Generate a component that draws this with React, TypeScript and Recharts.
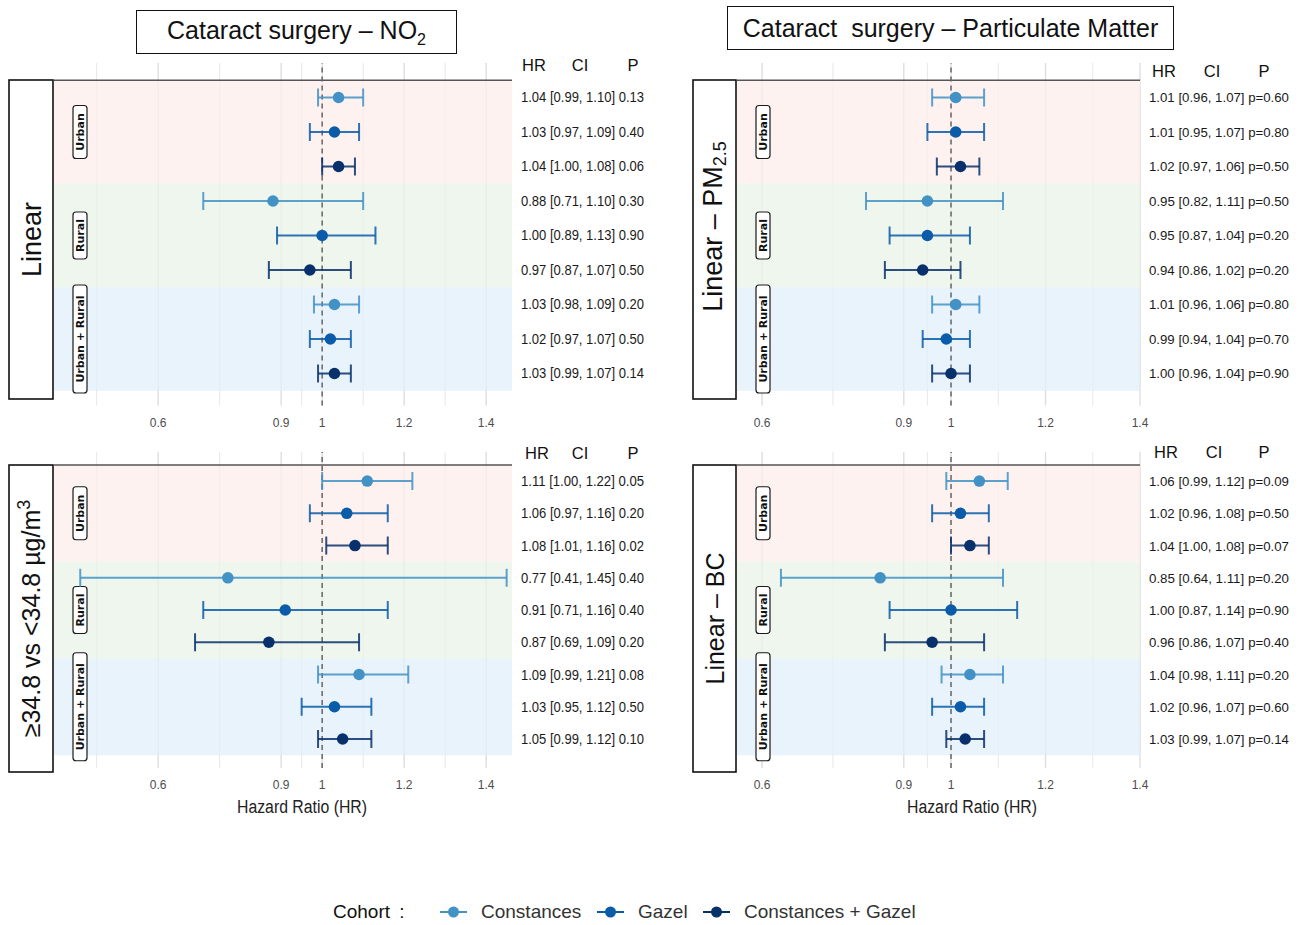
import React from 'react'
import {
  ScatterChart,
  Scatter,
  XAxis,
  YAxis,
  ErrorBar,
  CartesianGrid,
  ReferenceArea,
  ReferenceLine,
} from 'recharts'

// cohorts (one colour each), repeated in every area block
const COHORTS = ['Constances', 'Gazel', 'Constances + Gazel']
const COHORT_COLORS = ['#4292c6', '#0b5ca8', '#08306b']
const AREAS = ['Urban', 'Rural', 'Urban + Rural']
const AREA_FILLS = ['#fcedeb', '#eaf3e8', '#e2effb']

const MAJOR_TICKS = [0.6, 0.9, 1, 1.2, 1.4]
const MINOR_LEFT = [0.45, 0.75, 0.95, 1.1, 1.3]
const MINOR_RIGHT = [0.75, 0.95, 1.1, 1.3]

// rows: Urban (C, G, C+G), Rural (C, G, C+G), Urban + Rural (C, G, C+G)
const NO2_LIN_HR = [1.04, 1.03, 1.04, 0.88, 1.0, 0.97, 1.03, 1.02, 1.03]
const NO2_LIN_LO = [0.99, 0.97, 1.0, 0.71, 0.89, 0.87, 0.98, 0.97, 0.99]
const NO2_LIN_HI = [1.1, 1.09, 1.08, 1.1, 1.13, 1.07, 1.09, 1.07, 1.07]
const NO2_LIN_P = [0.13, 0.4, 0.06, 0.3, 0.9, 0.5, 0.2, 0.5, 0.14]

const PM_HR = [1.01, 1.01, 1.02, 0.95, 0.95, 0.94, 1.01, 0.99, 1.0]
const PM_LO = [0.96, 0.95, 0.97, 0.82, 0.87, 0.86, 0.96, 0.94, 0.96]
const PM_HI = [1.07, 1.07, 1.06, 1.11, 1.04, 1.02, 1.06, 1.04, 1.04]
const PM_P = [0.6, 0.8, 0.5, 0.5, 0.2, 0.2, 0.8, 0.7, 0.9]

const NO2_THR_HR = [1.11, 1.06, 1.08, 0.77, 0.91, 0.87, 1.09, 1.03, 1.05]
const NO2_THR_LO = [1.0, 0.97, 1.01, 0.41, 0.71, 0.69, 0.99, 0.95, 0.99]
const NO2_THR_HI = [1.22, 1.16, 1.16, 1.45, 1.16, 1.09, 1.21, 1.12, 1.12]
const NO2_THR_P = [0.05, 0.2, 0.02, 0.4, 0.4, 0.2, 0.08, 0.5, 0.1]

const BC_HR = [1.06, 1.02, 1.04, 0.85, 1.0, 0.96, 1.04, 1.02, 1.03]
const BC_LO = [0.99, 0.96, 1.0, 0.64, 0.87, 0.86, 0.98, 0.96, 0.99]
const BC_HI = [1.12, 1.08, 1.08, 1.11, 1.14, 1.07, 1.11, 1.07, 1.07]
const BC_P = [0.09, 0.5, 0.07, 0.2, 0.9, 0.4, 0.2, 0.6, 0.14]

const SANS = "'Liberation Sans', Arial, sans-serif"

const STRIP_LEN: Record<string, number> = { Urban: 53, Rural: 47, 'Urban + Rural': 108 }

const PANELS = [
  {
    id: 'no2-linear',
    hr: NO2_LIN_HR, lo: NO2_LIN_LO, hi: NO2_LIN_HI, p: NO2_LIN_P, pPrefix: '',
    plotLeft: 54, plotRight: 512, rightW: 165, textW: 123, textSize: 14, xDomain: [0.346, 1.463], minor: MINOR_LEFT,
    rowTop: 97, rowStep: 34.5, yMin: -1, yMax: 8.93, tickMargin: 13,
    headerY: 65, headerX: [534, 580, 633],
    box: { x: 8, y: 79, w: 46, h: 321 },
    label: <>Linear</>, labelSize: 27, labelShift: 0, labelDx: 0,
    xTitle: false, xTitleX: 0,
  },
  {
    id: 'pm-linear',
    hr: PM_HR, lo: PM_LO, hi: PM_HI, p: PM_P, pPrefix: 'p=',
    plotLeft: 737, plotRight: 1140, rightW: 158, textW: 140, textSize: 13, xDomain: [0.547, 1.4], minor: MINOR_RIGHT,
    rowTop: 97, rowStep: 34.5, yMin: -1, yMax: 8.93, tickMargin: 13,
    headerY: 71, headerX: [1164, 1212, 1264],
    box: { x: 692, y: 79, w: 45, h: 321 },
    label: <>Linear – PM<tspan baselineShift="-20%" fontSize={18}>2.5</tspan></>, labelSize: 27, labelShift: -13, labelDx: -2,
    xTitle: false, xTitleX: 0,
  },
  {
    id: 'no2-threshold',
    hr: NO2_THR_HR, lo: NO2_THR_LO, hi: NO2_THR_HI, p: NO2_THR_P, pPrefix: '',
    plotLeft: 54, plotRight: 512, rightW: 165, textW: 123, textSize: 14, xDomain: [0.346, 1.463], minor: MINOR_LEFT,
    rowTop: 481, rowStep: 32.25, yMin: -0.9, yMax: 8.9, tickMargin: 12,
    headerY: 453, headerX: [537, 580, 633],
    box: { x: 8, y: 464, w: 46, h: 309 },
    label: <>≥34.8 vs &lt;34.8 µg/m<tspan baselineShift="super" fontSize={18}>3</tspan></>, labelSize: 25, labelShift: 0, labelDx: 0,
    xTitle: true, xTitleX: 302,
  },
  {
    id: 'bc-linear',
    hr: BC_HR, lo: BC_LO, hi: BC_HI, p: BC_P, pPrefix: 'p=',
    plotLeft: 737, plotRight: 1140, rightW: 158, textW: 140, textSize: 13, xDomain: [0.547, 1.4], minor: MINOR_RIGHT,
    rowTop: 481, rowStep: 32.25, yMin: -0.9, yMax: 8.9, tickMargin: 12,
    headerY: 452, headerX: [1166, 1214, 1264],
    box: { x: 692, y: 464, w: 45, h: 309 },
    label: <>Linear – BC</>, labelSize: 25, labelShift: 0, labelDx: 0,
    xTitle: true, xTitleX: 972,
  },
]

const TITLES = [
  { text: <>Cataract surgery – NO<sub style={{ fontSize: 16 }}>2</sub></>, x: 136, y: 10, w: 321, h: 44 },
  { text: <>Cataract&nbsp; surgery – Particulate Matter</>, x: 727, y: 6, w: 447, h: 44 },
]

function StripLabel({ viewBox, text }: any) {
  const cx = viewBox.x + 26
  const cy = viewBox.y + viewBox.height / 2
  const len = STRIP_LEN[text]
  return (
    <g transform={`rotate(-90 ${cx} ${cy})`}>
      <rect x={cx - len / 2} y={cy - 7} width={len} height={14} rx={3} fill="#fff" stroke="#1a1a1a" strokeWidth={1.2} />
      <text x={cx} y={cy} dy={4} textAnchor="middle" fontSize={11} fontWeight="bold" fontFamily="'DejaVu Sans', sans-serif" fill="#111">
        {text}
      </text>
    </g>
  )
}

function ForestPanel({ panel }: { panel: (typeof PANELS)[number] }) {
  const texts = panel.hr.map(
    (hr, i) =>
      `${hr.toFixed(2)} [${panel.lo[i].toFixed(2)}, ${panel.hi[i].toFixed(2)}] ${panel.pPrefix}${panel.p[i].toFixed(2)}`,
  )
  const rows = panel.hr.map((hr, i) => ({ row: i, hr, err: [hr - panel.lo[i], panel.hi[i] - hr] }))
  const series = COHORTS.map((_, c) => rows.filter((r) => r.row % 3 === c))

  const plotW = panel.plotRight - panel.plotLeft
  const plotH = (panel.yMax - panel.yMin) * panel.rowStep
  const axisH = 30
  const top = panel.rowTop + panel.yMin * panel.rowStep
  const [d0, d1] = panel.xDomain

  const gridAt = (values: number[]) => ({ xAxis, offset }: any) =>
    values.map((v) =>
      xAxis && typeof xAxis.scale === 'function'
        ? xAxis.scale(v)
        : offset.left + ((v - d0) / (d1 - d0)) * offset.width,
    )

  const RowTick = (props: any) => (
    <text
      x={props.x + 9}
      y={props.y}
      dy={5}
      fontSize={panel.textSize}
      fontFamily={SANS}
      fill="#1a1a1a"
      textLength={panel.textW}
      lengthAdjust="spacingAndGlyphs"
    >
      {texts[props.payload.value]}
    </text>
  )

  const lx = panel.box.w / 2 + panel.labelDx
  const ly = panel.box.h / 2 + panel.labelShift

  return (
    <>
      <div style={{ position: 'absolute', left: panel.plotLeft, top }}>
        <ScatterChart width={plotW + panel.rightW} height={plotH + axisH} margin={{ top: 0, right: 0, bottom: 0, left: 0 }}>
          <CartesianGrid horizontal={false} stroke="#e2e2e2" strokeWidth={0.8} verticalCoordinatesGenerator={gridAt(panel.minor)} />
          <CartesianGrid horizontal={false} stroke="#dedede" strokeWidth={1.4} verticalCoordinatesGenerator={gridAt(MAJOR_TICKS)} />
          <XAxis
            type="number"
            dataKey="hr"
            domain={panel.xDomain}
            ticks={MAJOR_TICKS}
            interval={0}
            allowDataOverflow
            axisLine={false}
            tickLine={false}
            tickSize={0}
            tickMargin={panel.tickMargin}
            height={axisH}
            tick={{ fontSize: 12, fontFamily: SANS, fill: '#4d4d4d' }}
          />
          <YAxis
            type="number"
            dataKey="row"
            orientation="right"
            domain={[panel.yMin, panel.yMax]}
            reversed
            allowDataOverflow
            ticks={[0, 1, 2, 3, 4, 5, 6, 7, 8]}
            interval={0}
            width={panel.rightW}
            axisLine={false}
            tickLine={false}
            tickSize={0}
            tickMargin={0}
            tick={RowTick}
          />
          {AREAS.map((area, a) => (
            <ReferenceArea
              key={area}
              y1={a * 3 - 0.5}
              y2={a * 3 + 2.5}
              fill={AREA_FILLS[a]}
              fillOpacity={0.75}
              stroke="none"
              label={(props: any) => <StripLabel viewBox={props.viewBox} text={area} />}
            />
          ))}
          <ReferenceLine y={-0.5} stroke="#555" strokeWidth={1.5} />
          <ReferenceLine x={1} stroke="#666" strokeWidth={1.5} strokeDasharray="5 4" />
          {series.map((data, c) => (
            <Scatter
              key={COHORTS[c]}
              name={COHORTS[c]}
              data={data}
              fill={COHORT_COLORS[c]}
              isAnimationActive={false}
              shape={(p: any) => <circle cx={p.cx} cy={p.cy} r={5.8} fill={COHORT_COLORS[c]} />}
            >
              <ErrorBar
                dataKey="err"
                direction="x"
                width={9}
                stroke={COHORT_COLORS[c]}
                strokeWidth={2}
                strokeOpacity={0.85}
                isAnimationActive={false}
              />
            </Scatter>
          ))}
        </ScatterChart>
      </div>
      {['HR', 'CI', 'P'].map((h, i) => (
        <div
          key={h}
          style={{
            position: 'absolute', left: panel.headerX[i] - 20, width: 40, top: panel.headerY - 12, height: 24,
            lineHeight: '24px', textAlign: 'center', fontSize: 16.5, fontFamily: SANS, color: '#111',
          }}
        >
          {h}
        </div>
      ))}
      <svg style={{ position: 'absolute', left: panel.box.x, top: panel.box.y }} width={panel.box.w} height={panel.box.h}>
        <rect x={1} y={1} width={panel.box.w - 2} height={panel.box.h - 2} fill="#fff" stroke="#111" strokeWidth={1.6} />
        <text
          x={lx}
          y={ly}
          transform={`rotate(-90 ${lx} ${ly})`}
          textAnchor="middle"
          dy={panel.labelSize * 0.36}
          fontSize={panel.labelSize}
          fontFamily={SANS}
          fill="#111"
        >
          {panel.label}
        </text>
      </svg>
      {panel.xTitle && (
        <svg style={{ position: 'absolute', left: panel.xTitleX - 90, top: 795 }} width={180} height={24}>
          <text x={25} y={18} fontSize={18} fontFamily={SANS} fill="#222" textLength={130} lengthAdjust="spacingAndGlyphs">
            Hazard Ratio (HR)
          </text>
        </svg>
      )}
    </>
  )
}

function CohortLegend() {
  const starts = [440, 597, 703]
  return (
    <>
      <div style={{ position: 'absolute', left: 333, top: 900, height: 24, lineHeight: '24px', fontSize: 19, fontFamily: SANS, color: '#111', wordSpacing: 4 }}>
        Cohort :
      </div>
      {COHORTS.map((name, c) => (
        <div key={name} style={{ position: 'absolute', left: starts[c], top: 900, height: 24, display: 'flex', alignItems: 'center' }}>
          <svg width={27} height={14}>
            <line x1={0} y1={7} x2={27} y2={7} stroke={COHORT_COLORS[c]} strokeWidth={2} />
            <circle cx={13.5} cy={7} r={5.5} fill={COHORT_COLORS[c]} />
          </svg>
          <span style={{ marginLeft: 14, fontSize: 19, fontFamily: SANS, color: '#333', whiteSpace: 'nowrap' }}>{name}</span>
        </div>
      ))}
    </>
  )
}

export default function App() {
  return (
    <div style={{ position: 'absolute', left: 0, top: 0, width: 1300, height: 925, background: '#fff', overflow: 'hidden' }}>
      {TITLES.map((t, i) => (
        <div
          key={i}
          style={{
            position: 'absolute', left: t.x, top: t.y, width: t.w, height: t.h, boxSizing: 'border-box',
            border: '1.5px solid #111', display: 'flex', alignItems: 'center', justifyContent: 'center',
            fontSize: 25, fontFamily: SANS, color: '#111', whiteSpace: 'nowrap',
          }}
        >
          <span>{t.text}</span>
        </div>
      ))}
      {PANELS.map((panel) => (
        <ForestPanel key={panel.id} panel={panel} />
      ))}
      <CohortLegend />
    </div>
  )
}
